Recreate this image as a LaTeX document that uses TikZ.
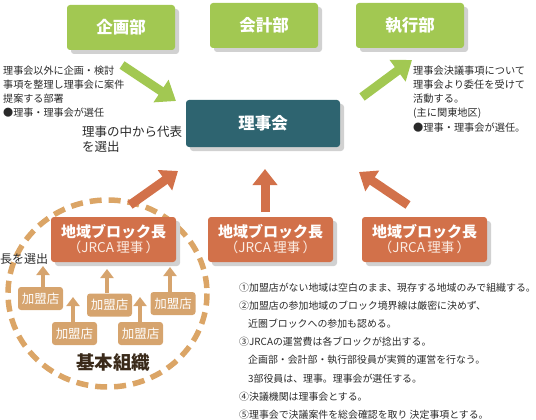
\documentclass[tikz,border=0pt]{standalone}
\usepackage{fontspec}
\setmainfont{Noto Sans CJK JP}
\usetikzlibrary{arrows.meta,shadows}
\definecolor{grn}{HTML}{A2C852}
\definecolor{tealbox}{HTML}{2E6470}
\definecolor{org}{HTML}{D2714A}
\definecolor{tanbox}{HTML}{D6A46E}
\definecolor{circ}{HTML}{DBA566}
\definecolor{txt}{HTML}{2A2A2A}
\definecolor{brn}{HTML}{3A2A1A}
\definecolor{cream}{HTML}{FBEDE4}
\tikzset{
  shad/.style={drop shadow={shadow xshift=4pt,shadow yshift=-4pt,fill=black!18,opacity=1}},
  topbox/.style={shad,fill=grn,rounded corners=3pt,minimum width=108pt,minimum height=45pt,
    text=white,font=\bfseries\fontsize{16.5}{16.5}\selectfont},
  rjbox/.style={shad,fill=tealbox,rounded corners=3pt,minimum width=154pt,minimum height=47pt,
    text=white,font=\bfseries\fontsize{16.5}{16.5}\selectfont},
  blkbox/.style={shad,fill=org,rounded corners=3pt,minimum width=125pt,minimum height=45pt,
    text=white,align=center,inner sep=0pt},
  kmbox/.style={fill=tanbox,rounded corners=3pt,minimum width=45pt,minimum height=23pt,
    text=white,inner sep=0pt,font=\fontsize{12.5}{12.5}\selectfont},
  garrow/.style={grn,line width=9pt,-{Triangle[length=18pt,width=26pt]}},
  oarrow/.style={org,line width=9pt,-{Triangle[length=16pt,width=24pt]}},
  tarrow/.style={tanbox,line width=4pt,-{Triangle[length=9pt,width=13pt]}},
  note/.style={text=txt,anchor=north west,inner sep=0pt,align=left},
}
\newcommand{\blk}{{\bfseries\fontsize{15}{17}\selectfont 地域ブロック長}\\[1pt]{\color{cream}\fontsize{13.5}{15}\selectfont （JRCA\,理事\,）}}
\begin{document}
\begin{tikzpicture}[x=1pt,y=-1pt]
\useasboundingbox (0,0) rectangle (536,420);
% dashed circle
\draw[circ,line width=5.5pt,dash pattern=on 12pt off 7pt] (107.5,293.5) ellipse (99.5 and 93.5);
% top boxes
\node[topbox] (kikaku) at (121,27.5) {企画部};
\node[topbox] (kaikei) at (264,25.5) {会計部};
\node[topbox] (shikko) at (410,25.5) {執行部};
\node[rjbox] (riji) at (263,123.5) {理事会};
% block boxes
\node[blkbox] (b1) at (113.5,239.5) {\blk};
\node[blkbox] (b2) at (270.5,239.5) {\blk};
\node[blkbox] (b3) at (424.5,239.5) {\blk};
% kameiten
\node[kmbox] (k1) at (40.5,298.5) {加盟店};
\node[kmbox] (k2) at (74.5,333.5) {加盟店};
\node[kmbox] (k3) at (109.5,305) {加盟店};
\node[kmbox] (k4) at (140.5,333.5) {加盟店};
\node[kmbox] (k5) at (173,303.5) {加盟店};
% arrow end coordinates
\coordinate (g1s) at (122,65);
\coordinate (g1e) at (176,101);
\coordinate (g2s) at (362,97);
\coordinate (g2e) at (412,60);
\coordinate (o1s) at (130,205);
\coordinate (o1e) at (178,171);
\coordinate (o2s) at (265,212);
\coordinate (o2e) at (265,169);
\coordinate (o3s) at (408,205);
\coordinate (o3e) at (359,172);
\coordinate (t1) at (43,266);
\coordinate (t2) at (73,297);
\coordinate (t3) at (107,269);
\coordinate (t4) at (140,297);
\coordinate (t5) at (170,267);
\draw[garrow] (g1s) -- (g1e);
\draw[garrow] (g2s) -- (g2e);
\draw[oarrow] (o1s) -- (o1e);
\draw[oarrow] (o2s) -- (o2e);
\draw[oarrow] (o3s) -- (o3e);
\draw[tarrow] (k1.north -| t1) -- (t1);
\draw[tarrow] (k2.north -| t2) -- (t2);
\draw[tarrow] (k3.north -| t3) -- (t3);
\draw[tarrow] (k4.north -| t4) -- (t4);
\draw[tarrow] (k5.north -| t5) -- (t5);
% texts
\node[note,font=\fontsize{10.1}{14}\selectfont] (lt) at (3,65.5)
  {理事会以外に企画・検討\\事項を整理し理事会に案件\\提案する部署\\●理事・理事会が選任};
\node[note,font=\fontsize{10.2}{14.2}\selectfont] (rt) at (413,65.5)
  {理事会決議事項について\\理事会より委任を受けて\\活動する。\\(主に関東地区)\\●理事・理事会が選任。};
\node[note,font=\fontsize{12.5}{15}\selectfont] (dh) at (82,125.5)
  {理事の中から代表\\を選出};
\node[note,font=\fontsize{12}{12}\selectfont] (cs) at (0,253.5) {長を選出};
\node[text=brn,font=\bfseries\fontsize{18.5}{18.5}\selectfont] (kh) at (113,363) {基本組織};
\node[note,font=\fontsize{9.9}{18.1}\selectfont] (lst) at (239,283)
  {①加盟店がない地域は空白のまま、現存する地域のみで組織する。\\
   ②加盟店の参加地域のブロック境界線は厳密に決めず、\\
   \hspace*{9pt}近圏ブロックへの参加も認める。\\
   ③JRCAの運営費は各ブロックが捻出する。\\
   \hspace*{9pt}企画部・会計部・執行部役員が実質的運営を行なう。\\
   \hspace*{9pt}3部役員は、理事。理事会が選任する。\\
   ④決議機関は理事会とする。\\
   ⑤理事会で決議案件を総会確認を取り 決定事項とする。};
\end{tikzpicture}
\end{document}
